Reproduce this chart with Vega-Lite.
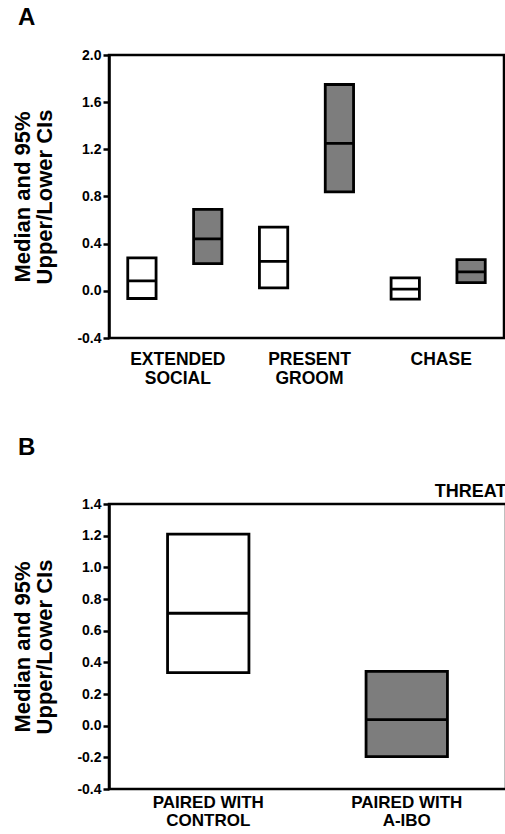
{
  "$schema": "https://vega.github.io/schema/vega-lite/v6.json",
  "padding": {"left": 10, "top": 4, "right": 0, "bottom": 0},
  "background": "white",
  "config": {
    "font": "Liberation Sans",
    "view": {"stroke": "black", "strokeWidth": 2.5},
    "axis": {"labelColor": "black", "titleColor": "black", "labelFontWeight": "bold", "titleFontWeight": "bold", "grid": false, "labelOverlap": false},
    "title": {"fontSize": 24, "fontWeight": "bold", "color": "black", "anchor": "start", "frame": "bounds", "dx": 6}
  },
  "datasets": {
    "panelA": [
      {"behavior": "EXTENDED SOCIAL", "group": "Control", "lower": -0.065, "median": 0.085, "upper": 0.28},
      {"behavior": "EXTENDED SOCIAL", "group": "A-IBO", "lower": 0.23, "median": 0.44, "upper": 0.69},
      {"behavior": "PRESENT GROOM", "group": "Control", "lower": 0.025, "median": 0.25, "upper": 0.54},
      {"behavior": "PRESENT GROOM", "group": "A-IBO", "lower": 0.84, "median": 1.25, "upper": 1.75},
      {"behavior": "CHASE", "group": "Control", "lower": -0.07, "median": 0.015, "upper": 0.11},
      {"behavior": "CHASE", "group": "A-IBO", "lower": 0.07, "median": 0.16, "upper": 0.265}
    ],
    "panelB": [
      {"pairing": "PAIRED WITH CONTROL", "group": "Control", "lower": 0.335, "median": 0.71, "upper": 1.21},
      {"pairing": "PAIRED WITH A-IBO", "group": "A-IBO", "lower": -0.196, "median": 0.038, "upper": 0.343}
    ]
  },
  "spacing": 46,
  "vconcat": [
    {
      "title": {"text": "A", "offset": 18},
      "width": 395,
      "height": 283,
      "data": {"name": "panelA"},
      "encoding": {
        "x": {
          "field": "behavior", "type": "nominal", "sort": null,
          "scale": {"paddingInner": 0, "paddingOuter": 0},
          "axis": {"title": null, "ticks": false, "domain": false, "labelAngle": 0, "labelFontSize": 17.5, "labelLineHeight": 19, "labelPadding": 12, "labelOffset": 3, "labelExpr": "split(datum.label, ' ')"}
        },
        "xOffset": {
          "field": "group", "type": "nominal", "sort": ["Control", "A-IBO"],
          "scale": {"paddingInner": 0.57, "paddingOuter": 0.285}
        }
      },
      "layer": [
        {
          "mark": {"type": "bar", "stroke": "black", "strokeWidth": 2.8},
          "encoding": {
            "y": {
              "field": "lower", "type": "quantitative",
              "scale": {"domain": [-0.4, 2.0], "nice": false, "zero": false},
              "axis": {"values": [-0.4, 0, 0.4, 0.8, 1.2, 1.6, 2.0], "labelExpr": "replace(format(datum.value, '.1f'), '\u2212', '-')", "labelFontSize": 14, "tickSize": 6, "tickWidth": 2.5, "tickColor": "black", "domainColor": "black", "domainWidth": 2.5, "labelPadding": 2, "title": ["Median and 95%", "Upper/Lower CIs"], "titleFontSize": 22, "titleLineHeight": 22, "titlePadding": 20}
            },
            "y2": {"field": "upper"},
            "fill": {"field": "group", "type": "nominal", "scale": {"domain": ["Control", "A-IBO"], "range": ["white", "#7d7d7d"]}, "legend": null}
          }
        },
        {
          "mark": {"type": "bar", "stroke": "black", "strokeWidth": 2.8, "fill": "black"},
          "encoding": {
            "y": {"field": "median", "type": "quantitative"},
            "y2": {"field": "median"}
          }
        }
      ]
    },
    {
      "title": {"text": "B", "offset": 22},
      "width": 397,
      "height": 285,
      "data": {"name": "panelB"},
      "resolve": {"axis": {"x": "independent"}},
      "layer": [
        {
          "mark": {"type": "bar", "stroke": "black", "strokeWidth": 2.8},
          "encoding": {
            "x": {
              "field": "pairing", "type": "nominal", "sort": null,
              "scale": {"paddingInner": 0.59, "paddingOuter": 0.295},
              "axis": {"title": null, "ticks": false, "domain": false, "labelAngle": 0, "labelFontSize": 17, "labelLineHeight": 18, "labelPadding": 5, "labelExpr": "['PAIRED WITH', replace(datum.label, 'PAIRED WITH ', '')]"}
            },
            "y": {
              "field": "lower", "type": "quantitative",
              "scale": {"domain": [-0.4, 1.4], "nice": false, "zero": false},
              "axis": {"values": [-0.4, -0.2, 0, 0.2, 0.4, 0.6, 0.8, 1.0, 1.2, 1.4], "labelExpr": "replace(format(datum.value, '.1f'), '\u2212', '-')", "labelFontSize": 14, "tickSize": 6, "tickWidth": 2.5, "tickColor": "black", "domainColor": "black", "domainWidth": 2.5, "labelPadding": 2, "title": ["Median and 95%", "Upper/Lower CIs"], "titleFontSize": 22, "titleLineHeight": 22, "titlePadding": 20}
            },
            "y2": {"field": "upper"},
            "fill": {"field": "group", "type": "nominal", "scale": {"domain": ["Control", "A-IBO"], "range": ["white", "#5f5f5f"]}, "legend": null}
          }
        },
        {
          "mark": {"type": "bar", "stroke": "black", "strokeWidth": 2.8, "fill": "black"},
          "encoding": {
            "x": {
              "field": "pairing", "type": "nominal", "sort": null,
              "axis": {"orient": "top", "labels": false, "ticks": false, "domain": false, "title": "THREAT", "titleAnchor": "end", "titleFontSize": 18, "titlePadding": 4}
            },
            "y": {
              "field": "median", "type": "quantitative",
              "axis": {"values": [-0.4, -0.2, 0, 0.2, 0.4, 0.6, 0.8, 1.0, 1.2, 1.4], "labelExpr": "replace(format(datum.value, '.1f'), '\u2212', '-')", "labelFontSize": 14, "tickSize": 6, "tickWidth": 2.5, "tickColor": "black", "domainColor": "black", "domainWidth": 2.5, "labelPadding": 2, "title": ["Median and 95%", "Upper/Lower CIs"], "titleFontSize": 22, "titleLineHeight": 22, "titlePadding": 20}
            },
            "y2": {"field": "median"}
          }
        }
      ]
    }
  ]
}
